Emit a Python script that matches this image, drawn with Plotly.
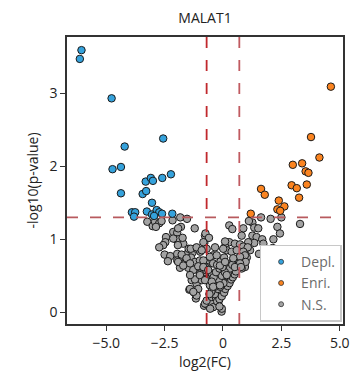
import plotly.graph_objects as go

# ---- data: (log2FC, -log10 p) ----
depl_pts = [
    (-6.06, 3.59), (-6.13, 3.47), (-4.77, 2.93), (-4.21, 2.27), (-2.56, 2.38),
    (-4.73, 1.96), (-4.37, 1.99), (-4.37, 1.63), (-3.31, 1.79), (-3.09, 1.84),
    (-3.00, 1.80), (-2.60, 1.84), (-2.23, 1.89), (-3.44, 1.62), (-3.29, 1.66),
    (-3.04, 1.50), (-3.90, 1.37), (-3.76, 1.37), (-3.81, 1.31), (-3.26, 1.38),
    (-3.04, 1.34), (-2.84, 1.40), (-2.73, 1.37), (-2.61, 1.35), (-2.17, 1.35),
    (-2.95, 1.32),
]
enri_pts = [
    (4.62, 3.09), (3.77, 2.40), (4.13, 2.12), (2.99, 2.02), (3.39, 2.04),
    (3.54, 1.93), (3.66, 1.91), (2.94, 1.74), (3.16, 1.70), (3.59, 1.75),
    (1.63, 1.69), (1.79, 1.61), (3.26, 1.57), (2.39, 1.53), (2.63, 1.45),
    (2.33, 1.41), (2.45, 1.39), (1.19, 1.35),
]
ns_pts = [
    (-3.24, 1.24), (-3.01, 1.18), (-2.91, 1.24), (-2.73, 1.22), (-2.63, 1.25),
    (-2.87, 1.17), (-2.16, 1.26), (-1.83, 1.30), (-1.54, 1.28), (-1.80, 1.17),
    (-1.21, 1.15), (-2.13, 1.10), (-1.96, 1.09), (-2.44, 1.03), (-2.47, 0.96),
    (-2.01, 1.00), (-1.89, 1.00), (-2.56, 0.92), (-2.73, 0.89), (-1.70, 0.94),
    (-1.93, 0.92), (-0.77, 1.05), (-2.50, 0.79), (-2.26, 0.77), (-2.36, 0.70),
    (-1.96, 0.80), (-1.73, 0.78), (-1.54, 0.80), (-1.47, 0.87), (-1.30, 0.82),
    (-1.13, 0.87), (-0.97, 0.83), (-0.80, 0.95), (-1.96, 0.71), (-1.77, 0.71),
    (-1.59, 0.70), (-1.37, 0.75), (-1.20, 0.69), (-0.99, 0.71), (-0.73, 0.67),
    (-1.84, 0.61), (-1.49, 0.61), (-1.27, 0.58), (-1.06, 0.63), (-0.91, 0.55),
    (-0.70, 0.62), (-1.34, 0.44), (-1.13, 0.39), (-0.91, 0.44), (-0.77, 0.48),
    (-1.44, 0.31), (-1.23, 0.27), (-1.06, 0.32), (-1.16, 0.19), (-0.81, 0.09),
    (-0.70, 0.11), (0.27, 1.19), (0.40, 1.14), (0.87, 1.15), (1.26, 1.23),
    (1.34, 1.16), (1.51, 1.15), (1.63, 1.30), (2.04, 1.28), (2.33, 1.17),
    (2.50, 1.30), (3.30, 1.21), (2.44, 1.08), (0.80, 1.05), (1.26, 1.05),
    (1.44, 1.03), (1.68, 1.00), (1.73, 0.94), (1.34, 0.95), (1.08, 0.96),
    (2.13, 0.88), (1.54, 0.80), (1.16, 0.85), (-0.75, 1.08), (-0.60, 1.02),
    (0.27, 0.96), (0.51, 0.94), (0.73, 0.93), (0.09, 0.90), (0.16, 0.85),
    (0.37, 0.83), (0.59, 0.85), (0.87, 0.90), (0.94, 0.80), (1.02, 0.75),
    (0.70, 0.71), (0.94, 0.62), (0.80, 0.60), (-0.70, 0.87), (-0.42, 0.78),
    (-0.56, 0.76), (-0.84, 0.71), (-0.42, 0.67), (-0.77, 0.62), (-0.48, 0.53),
    (-0.70, 0.46), (-0.34, 0.44), (0.01, 0.71), (0.16, 0.62), (0.30, 0.55),
    (0.01, 0.46), (-0.20, 0.37), (-0.13, 0.28), (-0.34, 0.21), (-0.63, 0.10),
    (-0.34, 0.10), (-0.06, 0.01), (0.44, 0.71), (0.59, 0.67), (0.44, 0.60),
    (0.23, 0.48), (0.09, 0.37), (-0.06, 0.30), (-0.13, 0.21), (-0.20, 0.14),
    (-1.20, 0.45), (-1.41, 0.32), (-1.13, 0.23), (-0.77, 0.12), (-0.48, 0.12),
    (-0.42, 0.07), (-0.70, 0.16), (-0.99, 0.53), (-0.70, 0.44), (-0.56, 0.37),
    (-0.42, 0.30), (-0.48, 0.21),
    (-0.30, 0.20), (-0.20, 0.25), (-0.10, 0.28), (0.00, 0.33), (0.05, 0.38),
    (0.12, 0.42), (0.18, 0.45), (0.25, 0.50), (0.32, 0.52), (0.38, 0.56),
    (0.45, 0.58), (0.52, 0.62), (0.60, 0.64), (0.68, 0.68), (-0.25, 0.15),
    (-0.15, 0.18), (-0.05, 0.22), (0.05, 0.27), (0.10, 0.32), (0.20, 0.36),
    (0.28, 0.40), (0.35, 0.45), (0.42, 0.48), (0.50, 0.52), (0.55, 0.56),
    (-0.35, 0.25), (-0.22, 0.32), (-0.12, 0.35), (0.02, 0.40), (0.15, 0.50),
    (0.22, 0.55), (0.30, 0.60), (0.40, 0.65), (-0.28, 0.40), (-0.18, 0.45),
    (-0.05, 0.50), (0.08, 0.55), (-0.40, 0.48), (-0.30, 0.55), (-0.15, 0.60),
    (-0.02, 0.62), (-0.25, 0.65), (-0.10, 0.70), (0.05, 0.75), (-0.35, 0.35),
    (-0.50, 0.28), (-0.58, 0.25), (-0.05, 0.05), (-0.55, 0.05), (-0.15, 0.08),
    (-1.92, 1.15), (-2.13, 1.01), (-1.73, 1.02), (-0.84, 0.96), (0.09, 0.97),
    (-1.38, 0.87), (-1.13, 0.89), (-0.91, 0.85), (-1.77, 0.79), (-1.56, 0.74),
    (-1.92, 0.69), (-1.70, 0.64), (-1.41, 0.67), (-0.84, 0.62), (-0.63, 0.58),
    (-1.41, 0.51), (-0.99, 0.51), (-0.77, 0.44), (-0.48, 0.42), (-1.27, 0.28),
    (-0.42, 0.35), (-0.13, 0.37), (-0.13, 0.64), (0.09, 0.69), (0.16, 0.51),
    (-0.27, 0.78), (0.01, 0.87), (-0.34, 0.89),
    (1.11, 1.25), (2.16, 1.00), (1.06, 0.89), (0.87, 0.83), (0.94, 0.78),
    (0.73, 0.76), (0.44, 0.74), (0.97, 0.69), (0.73, 0.67), (0.51, 0.62),
    (0.77, 0.62),
]
legend_names = ["Depl.", "Enri.", "N.S."]
x_tickvals = [-5.0, -2.5, 0, 2.5, 5.0]
x_ticktext = ["\u22125.0", "\u22122.5", "0", "2.5", "5.0"]
y_tickvals = [0, 1, 2, 3]
fc_cut = 0.7
p_cut = 1.301

colors = {"Depl.": "#35a2dc", "Enri.": "#fb8420", "N.S.": "#a3a3a3"}
series = {"Depl.": depl_pts, "Enri.": enri_pts, "N.S.": ns_pts}

fig = go.Figure()
for name in ["N.S.", "Depl.", "Enri."]:
    pts = series[name]
    fig.add_trace(go.Scatter(
        x=[p[0] for p in pts], y=[p[1] for p in pts], mode="markers",
        marker=dict(size=7.5, color=colors[name], line=dict(color="#1a1a1a", width=1)),
        showlegend=False, name=name))
for name in legend_names:
    fig.add_trace(go.Scatter(
        x=[None], y=[None], mode="markers", name=name,
        marker=dict(size=5, color=colors[name], line=dict(color="#333", width=0.8))))

fig.add_vline(x=-fc_cut, line=dict(color="#c0282d", width=1.8, dash="11px,12px"))
fig.add_vline(x=fc_cut, line=dict(color="#c05a60", width=1.8, dash="11px,12px"))
fig.add_hline(y=p_cut, line=dict(color="#b85a5e", width=1.8, dash="11px,12px"))

axis_common = dict(showgrid=False, zeroline=False, showline=True, mirror=True,
                   linecolor="#333", linewidth=1.5, ticks="outside", ticklen=5,
                   tickwidth=1.2, tickcolor="#333", automargin=False,
                   tickfont=dict(size=14, color="#222"))
fig.update_xaxes(range=[-6.68, 5.14], tickvals=x_tickvals, ticktext=x_ticktext,
                 title=dict(text="log2(FC)", font=dict(size=14, color="#222"), standoff=2),
                 **axis_common)
fig.update_yaxes(range=[-0.16, 3.77], tickvals=y_tickvals,
                 title=dict(text="-log10(p-value)", font=dict(size=14, color="#222"), standoff=8),
                 **axis_common)

fig.update_layout(
    width=354, height=373,
    margin=dict(l=67, r=11, t=37, b=49, autoexpand=False),
    paper_bgcolor="white", plot_bgcolor="white",
    font=dict(family="Open Sans, DejaVu Sans, sans-serif", color="#222"),
    title=dict(text="MALAT1", xref="paper", x=0.5, xanchor="center",
               yref="container", y=0.952, yanchor="middle",
               font=dict(size=14, color="#222")),
    legend=dict(x=0.995, y=0.008, xanchor="right", yanchor="bottom",
                bgcolor="white", bordercolor="#c8c8c8", borderwidth=1.5,
                font=dict(size=14, color="#6b6b6b"), tracegroupgap=0,
                itemwidth=30),
)

fig.write_html("out.html", config={"displayModeBar": False},
               post_script="document.body.style.margin='0';document.body.style.padding='0';")
